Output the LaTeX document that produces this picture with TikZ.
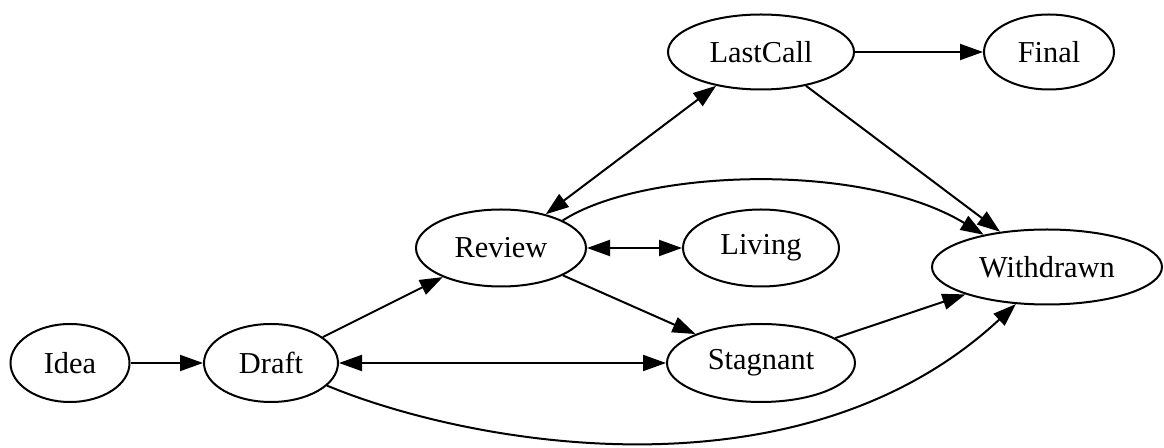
\documentclass[tikz,border=0pt]{standalone}
\usepackage{fontspec}
\setmainfont{Liberation Serif}
\usetikzlibrary{shapes.geometric,arrows.meta}
\begin{document}
\begin{tikzpicture}[x=0.5pt,y=-0.5pt,
  st/.style={ellipse,draw,line width=1pt,inner sep=0pt,font=\fontsize{15.2}{18}\selectfont},
  edge/.style={line width=1pt,-{Triangle[length=11.5pt,width=8pt]}},
  bi/.style={line width=1pt,{Triangle[length=11.5pt,width=8pt]}-{Triangle[length=11.5pt,width=8pt]}}]
\useasboundingbox (0,0) rectangle (1164,448);
\node[st,minimum width=59.5pt,minimum height=39pt] (idea) at (70,363) {Idea};
\node[st,minimum width=67pt,minimum height=39pt] (draft) at (271,363) {Draft};
\node[st,minimum width=85pt,minimum height=38.5pt] (review) at (501,248) {Review};
\node[st,minimum width=78pt,minimum height=38.5pt] (living) at (761,248) {Living};
\node[st,minimum width=94pt,minimum height=39pt] (stagnant) at (761,363) {Stagnant};
\node[st,minimum width=93pt,minimum height=37.5pt] (lastcall) at (761,52) {LastCall};
\node[st,minimum width=65pt,minimum height=37.5pt] (final) at (1049,52) {Final};
\node[st,minimum width=115pt,minimum height=37.5pt] (withdrawn) at (1047,267) {Withdrawn};

\draw[edge] (idea) -- (draft);
\draw[bi] (draft) -- (stagnant);
\draw[edge] (draft) -- (review);
\draw[bi] (review) -- (living);
\draw[edge] (review) -- (stagnant);
\draw[bi] (review) -- (lastcall);
\draw[edge] (lastcall) -- (final);
\draw[edge] (lastcall) -- (withdrawn);
\draw[edge] (stagnant) -- (withdrawn);
\draw[edge] (review.24) .. controls (640,170) and (860,160) .. (withdrawn.153);
\draw[edge] (draft.-22) .. controls (470,445) and (800,505) .. (withdrawn.230);
\end{tikzpicture}
\end{document}
